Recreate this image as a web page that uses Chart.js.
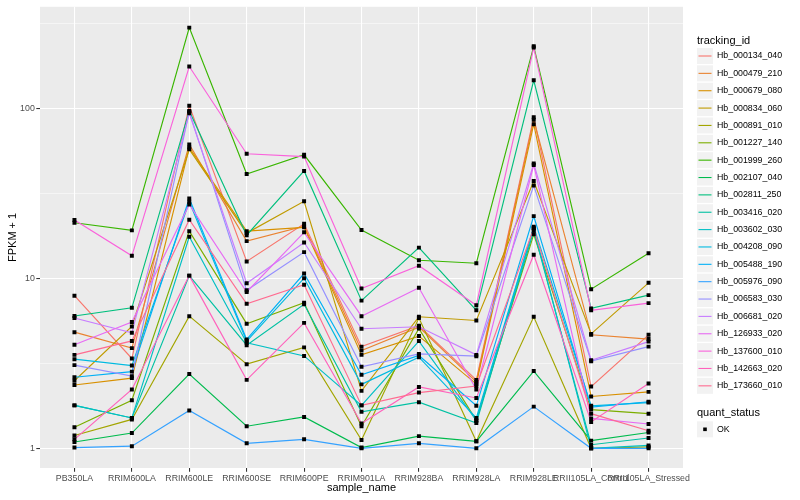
<!DOCTYPE html>
<html>
<head>
<meta charset="utf-8">
<script src="https://cdn.jsdelivr.net/npm/chart.js@4/dist/chart.umd.min.js"></script>
<style>
  html, body { margin: 0; padding: 0; background: #ffffff; }
  #wrap { width: 800px; height: 500px; }
</style>
</head>
<body>
<div id="wrap"><canvas id="c" width="800" height="500"></canvas></div>
<script>
// ---------------- data ----------------
const categories = ["PB350LA","RRIM600LA","RRIM600LE","RRIM600SE","RRIM600PE","RRIM901LA","RRIM928BA","RRIM928LA","RRIM928LE","RRII105LA_Control","RRII105LA_Stressed"];

const seriesNames = ["Hb_000134_040","Hb_000479_210","Hb_000679_080","Hb_000834_060","Hb_000891_010","Hb_001227_140","Hb_001999_260","Hb_002107_040","Hb_002811_250","Hb_003416_020","Hb_003602_030","Hb_004208_090","Hb_005488_190","Hb_005976_090","Hb_006583_030","Hb_006681_020","Hb_126933_020","Hb_137600_010","Hb_142663_020","Hb_173660_010"];

const seriesColors = ["#F8766D","#EA8331","#D89000","#C09B00","#A3A500","#7CAE00","#39B600","#00BB4E","#00BF7D","#00C1A3","#00BFC4","#00BAE0","#00B0F6","#35A2FF","#9590FF","#C77CFF","#E76BF3","#FA62DB","#FF62BC","#FF6C91"];

const hb_000134_040 = [7.92, 3.38, 104, 12.6, 21.0, 3.97, 5.27, 2.53, 89, 2.31, 4.66];
const hb_000479_210 = [4.83, 3.89, 61.6, 16.6, 20.3, 3.77, 5.17, 2.46, 86, 4.66, 4.40];
const hb_000679_080 = [2.36, 2.59, 59.0, 19.0, 20.0, 3.55, 4.58, 2.39, 81, 2.02, 2.15];
const hb_000834_060 = [2.50, 5.22, 57.6, 18.5, 28.5, 2.18, 5.95, 5.66, 37.5, 4.72, 9.43];
const hb_000891_010 = [1.19, 1.48, 6.0, 3.13, 3.93, 1.12, 5.85, 1.10, 5.95, 1.00, 1.02];
const hb_001227_140 = [1.33, 1.92, 19.0, 5.42, 7.20, 1.35, 5.07, 1.46, 18.2, 1.69, 1.60];
const hb_001999_260 = [21.3, 19.2, 300, 41.2, 53.5, 19.3, 12.8, 12.3, 233, 8.65, 14.1];
const hb_002107_040 = [1.09, 1.23, 2.74, 1.35, 1.53, 1.01, 1.18, 1.10, 2.85, 1.11, 1.24];
const hb_002811_250 = [6.01, 6.72, 97, 18.0, 43.0, 7.41, 15.2, 6.50, 147, 6.67, 7.98];
const hb_003416_020 = [1.79, 1.51, 10.4, 4.05, 7.05, 1.64, 1.87, 1.41, 19.1, 1.05, 1.15];
const hb_003602_030 = [1.79, 1.51, 17.6, 4.18, 3.50, 1.79, 4.28, 1.46, 19.8, 1.00, 1.04];
const hb_004208_090 = [3.35, 3.07, 28.3, 4.28, 10.04, 2.38, 3.44, 1.51, 20.2, 1.78, 1.86];
const hb_005488_190 = [2.62, 2.83, 29.6, 4.38, 10.7, 2.71, 3.52, 1.78, 23.3, 1.75, 1.88];
const hb_005976_090 = [1.01, 1.03, 1.67, 1.07, 1.13, 1.00, 1.07, 1.00, 1.76, 1.00, 1.00];
const hb_006583_030 = [3.09, 2.66, 96, 8.52, 14.3, 3.02, 3.60, 3.49, 35.3, 3.26, 3.97];
const hb_006681_020 = [5.85, 4.79, 94, 9.37, 16.3, 5.06, 5.20, 3.55, 47.5, 3.30, 4.25];
const hb_126933_020 = [4.07, 5.55, 27.3, 8.33, 18.7, 6.00, 8.82, 2.22, 46.6, 1.50, 1.39];
const hb_137600_010 = [22.1, 13.6, 177, 54.3, 52.2, 8.72, 11.9, 6.96, 229, 6.50, 7.16];
const hb_142663_020 = [1.13, 2.22, 10.4, 2.53, 5.48, 1.40, 2.30, 1.98, 13.8, 1.43, 2.41];
const hb_173660_010 = [3.55, 4.29, 22.2, 7.10, 9.20, 1.79, 2.13, 2.33, 19.7, 1.60, 1.27];

const seriesValues = [hb_000134_040, hb_000479_210, hb_000679_080, hb_000834_060, hb_000891_010,
  hb_001227_140, hb_001999_260, hb_002107_040, hb_002811_250, hb_003416_020, hb_003602_030,
  hb_004208_090, hb_005488_190, hb_005976_090, hb_006583_030, hb_006681_020, hb_126933_020,
  hb_137600_010, hb_142663_020, hb_173660_010];

const yMajorTicks = [1, 10, 100];
const yMinorTicks = [3.1623, 31.623, 316.23];
const yTickLabels = ["1", "10", "100"];
const statusLevels = ["OK"];

// ---------------- chart ----------------
const FONT = '"Liberation Sans", Arial, Helvetica, sans-serif';
Chart.defaults.font.family = FONT;

const lineSets = seriesValues.map((vals, i) => ({
  type: 'line',
  label: seriesNames[i],
  data: vals.map((v, j) => ({ x: j, y: v })),
  borderColor: seriesColors[i],
  backgroundColor: seriesColors[i],
  borderWidth: 1.15,
  pointRadius: 0,
  tension: 0,
  fill: false,
  order: -i
}));

const pointSet = {
  type: 'scatter',
  label: 'points',
  data: seriesValues.flatMap(vals => vals.map((v, j) => ({ x: j, y: v }))),
  pointStyle: 'rect',
  pointRadius: 2.8,
  pointBorderWidth: 0,
  pointBackgroundColor: '#000000',
  showLine: false,
  order: -100
};

const bgPlugin = {
  id: 'bg',
  beforeDraw(chart) {
    const ctx = chart.ctx, a = chart.chartArea;
    ctx.save();
    ctx.fillStyle = '#ffffff';
    ctx.fillRect(0, 0, chart.width, chart.height);
    ctx.fillStyle = '#EBEBEB';
    ctx.fillRect(a.left, a.top, a.right - a.left, a.bottom - a.top);
    ctx.restore();
  }
};

const annoPlugin = {
  id: 'anno',
  afterDraw(chart) {
    const ctx = chart.ctx, a = chart.chartArea;
    ctx.save();
    // axis titles
    ctx.fillStyle = '#000000';
    ctx.font = '11px ' + FONT;
    ctx.textAlign = 'center';
    ctx.textBaseline = 'middle';
    ctx.fillText('sample_name', (a.left + a.right) / 2, 487.5);
    ctx.save();
    ctx.translate(13, (a.top + a.bottom) / 2);
    ctx.rotate(-Math.PI / 2);
    ctx.fillText('FPKM + 1', 0, 0);
    ctx.restore();

    // legend: tracking_id
    const lx = 697, keyW = 16, keyH = 16, step = 17.36;
    ctx.textAlign = 'left';
    ctx.font = '11px ' + FONT;
    ctx.fillText('tracking_id', lx, 40.5);
    ctx.font = '8.8px ' + FONT;
    seriesNames.forEach((name, i) => {
      const cy = 56 + i * step;
      ctx.fillStyle = '#F2F2F2';
      ctx.fillRect(lx, cy - keyH / 2, keyW, keyH);
      ctx.strokeStyle = seriesColors[i];
      ctx.lineWidth = 1.1;
      ctx.beginPath();
      ctx.moveTo(lx + 1.5, cy);
      ctx.lineTo(lx + keyW - 1.5, cy);
      ctx.stroke();
      ctx.fillStyle = '#000000';
      ctx.fillText(name, 717, cy);
    });

    // legend: quant_status
    ctx.font = '11px ' + FONT;
    ctx.fillText('quant_status', lx, 413);
    ctx.font = '8.8px ' + FONT;
    statusLevels.forEach((lvl, i) => {
      const cy = 429.3 + i * step;
      ctx.fillStyle = '#F2F2F2';
      ctx.fillRect(lx, cy - keyH / 2, keyW, keyH);
      ctx.fillStyle = '#000000';
      ctx.fillRect(lx + keyW / 2 - 1.8, cy - 1.8, 3.6, 3.6);
      ctx.fillText(lvl, 717, cy);
    });
    ctx.restore();
  }
};

new Chart(document.getElementById('c'), {
  data: { datasets: [...lineSets, pointSet] },
  options: {
    responsive: false,
    animation: false,
    devicePixelRatio: 1,
    layout: { padding: { left: 0, right: 117, top: 5, bottom: 0 } },
    plugins: { legend: { display: false }, tooltip: { enabled: false } },
    scales: {
      x: {
        type: 'linear',
        min: -0.6,
        max: 10.6,
        afterBuildTicks(scale) { scale.ticks = categories.map((c, i) => ({ value: i })); },
        afterFit(scale) { scale.height = 32; },
        ticks: {
          autoSkip: false,
          maxRotation: 0,
          minRotation: 0,
          padding: 1.5,
          color: '#4D4D4D',
          font: { size: 8.8, family: FONT },
          callback: (v) => categories[v] ?? ''
        },
        grid: {
          color: '#FFFFFF',
          lineWidth: 1.07,
          tickColor: '#333333',
          tickLength: 3.7,
          drawOnChartArea: true
        },
        border: { display: false }
      },
      y: {
        type: 'logarithmic',
        min: 0.766,
        max: 398,
        afterBuildTicks(scale) {
          const all = [...yMajorTicks, ...yMinorTicks].sort((p, q) => p - q);
          scale.ticks = all.map(v => ({ value: v }));
        },
        afterFit(scale) { scale.width = 40; },
        ticks: {
          autoSkip: false,
          padding: 1.5,
          color: '#4D4D4D',
          font: { size: 8.8, family: FONT },
          callback: (v) => {
            const k = yMajorTicks.indexOf(v);
            return k >= 0 ? yTickLabels[k] : '';
          }
        },
        grid: {
          color: '#FFFFFF',
          lineWidth: (c) => (c.tick && yMajorTicks.includes(c.tick.value)) ? 1.07 : 0.53,
          tickColor: (c) => (c.tick && yMajorTicks.includes(c.tick.value)) ? '#333333' : 'rgba(0,0,0,0)',
          tickLength: 3.7
        },
        border: { display: false }
      }
    }
  },
  plugins: [bgPlugin, annoPlugin]
});
</script>
</body>
</html>
